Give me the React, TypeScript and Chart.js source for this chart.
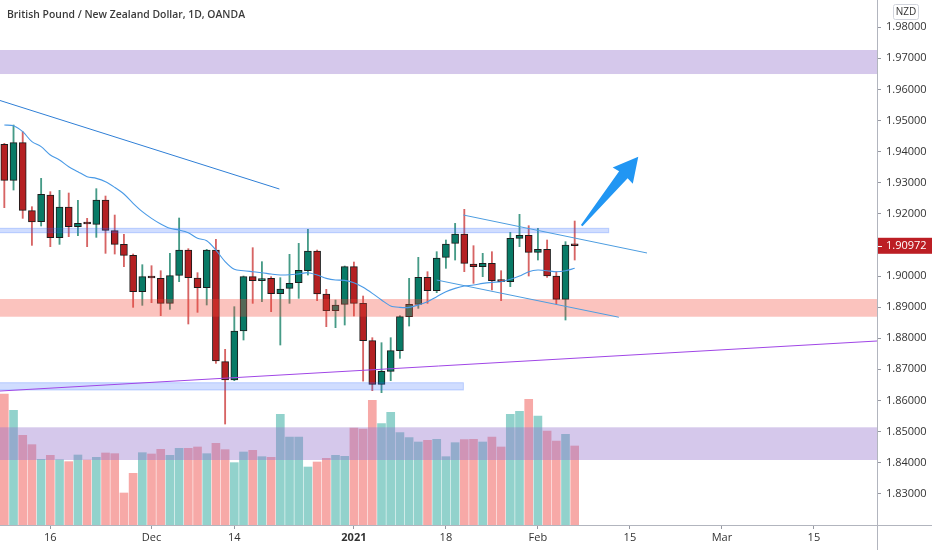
import React, { useEffect, useRef } from 'react';
import { Chart, registerables } from 'chart.js';

Chart.register(...registerables);

// ---- data ----
const opens = [
  1.94234, 1.93076, 1.94287, 1.92101, 1.91747, 1.92604, 1.91233, 1.92219, 1.91586, 1.91693,
  1.91661, 1.92444, 1.91458, 1.91018, 1.90665, 1.89496, 1.89957, 1.89925, 1.89121, 1.90021,
  1.90836, 1.89936, 1.89625, 1.90836, 1.87245, 1.86656, 1.88232, 1.89979, 1.8985, 1.89925,
  1.89432, 1.89603, 1.89786, 1.90171, 1.90804, 1.89421, 1.88885, 1.89089, 1.903, 1.89121,
  1.87921, 1.86517, 1.86935, 1.87599, 1.88692, 1.89089, 1.89957, 1.89528, 1.906, 1.9105,
  1.9135, 1.90386, 1.903, 1.90407, 1.89839, 1.89818, 1.91211, 1.91308, 1.90761, 1.90857,
  1.9, 1.8925, 1.91008,
];
const highs = [
  1.94266, 1.94855, 1.94641, 1.92229, 1.9314, 1.92712, 1.92755, 1.92669, 1.92433, 1.91854,
  1.92808, 1.92572, 1.91961, 1.9134, 1.90707, 1.90364, 1.90332, 1.90171, 1.90729, 1.91865,
  1.90879, 1.90107, 1.90857, 1.91179, 1.87642, 1.89014, 1.9, 1.90911, 1.90461, 1.89979,
  1.89946, 1.90697, 1.9105, 1.91501, 1.90836, 1.89571, 1.89228, 1.90322, 1.9045, 1.89357,
  1.88017, 1.87856, 1.88017, 1.88725, 1.89925, 1.906, 1.90139, 1.90782, 1.91158, 1.91693,
  1.92144, 1.90975, 1.90729, 1.90782, 1.90171, 1.91404, 1.91983, 1.91618, 1.91533, 1.91158,
  1.90139, 1.91104, 1.91768,
];
const lows = [
  1.92197, 1.92765, 1.91854, 1.90986, 1.91608, 1.90943, 1.91018, 1.91265, 1.91297, 1.90943,
  1.91243, 1.90729, 1.90707, 1.903, 1.88993, 1.89057, 1.89143, 1.88725, 1.88928, 1.89818,
  1.88457, 1.88832, 1.89068, 1.87192, 1.85241, 1.86635, 1.87942, 1.89121, 1.89175, 1.88853,
  1.87781, 1.89121, 1.89282, 1.90032, 1.89207, 1.88371, 1.88339, 1.88424, 1.88714, 1.86621,
  1.86313, 1.86249, 1.86635, 1.87353, 1.88392, 1.8896, 1.89121, 1.89464, 1.90247, 1.90514,
  1.90139, 1.89764, 1.89979, 1.8955, 1.89207, 1.89657, 1.90943, 1.9, 1.90514, 1.89957,
  1.891, 1.88585, 1.90514,
];
const closes = [
  1.93076, 1.94287, 1.92111, 1.91736, 1.92626, 1.91233, 1.92219, 1.91586, 1.91693, 1.91672,
  1.92444, 1.91468, 1.91018, 1.90665, 1.89496, 1.89979, 1.89936, 1.89121, 1.90011, 1.90836,
  1.89946, 1.89625, 1.90836, 1.87267, 1.86656, 1.88232, 1.89979, 1.8985, 1.89914, 1.89432,
  1.89582, 1.89764, 1.90182, 1.90804, 1.89421, 1.88885, 1.89068, 1.903, 1.89121, 1.87921,
  1.86517, 1.86935, 1.87599, 1.88692, 1.89089, 1.89957, 1.89528, 1.90579, 1.91029, 1.9135,
  1.90407, 1.903, 1.90407, 1.8985, 1.89818, 1.91211, 1.91308, 1.90761, 1.90857, 1.9,
  1.8925, 1.90997, 1.90972,
];
const volumes = [
  39300, 34400, 26900, 24100, 19700, 20900, 19600, 19000, 21000, 19500,
  20300, 21600, 21400, 9600, 15500, 21700, 21300, 22700, 20900, 23000,
  23000, 23400, 21400, 24500, 22600, 18700, 21900, 22400, 20500, 20300,
  33200, 26400, 26400, 17400, 18900, 20000, 20900, 20600, 29100, 28800,
  37400, 30400, 33800, 27700, 26200, 24900, 25400, 25700, 20500, 24700,
  25600, 25700, 24900, 26400, 23400, 33200, 34100, 37700, 32700, 28200,
  25200, 27200, 23700,
];
const maValues = [
  1.94855, 1.94834, 1.94641, 1.94319, 1.94159, 1.93891, 1.9373, 1.93516, 1.93355, 1.93194,
  1.9314, 1.93033, 1.92851, 1.92637, 1.92337, 1.92069, 1.91854, 1.91672, 1.91533, 1.91479,
  1.91393, 1.91211, 1.91136, 1.90836, 1.90461, 1.90214, 1.90171, 1.90139, 1.90107, 1.90064,
  1.90032, 1.9004, 1.9007, 1.90107, 1.90032, 1.89925, 1.89871, 1.89861, 1.89786, 1.89636,
  1.89443, 1.89228, 1.89035, 1.88992, 1.88992, 1.89068, 1.89175, 1.89335, 1.89496, 1.89603,
  1.89678, 1.89711, 1.89764, 1.89796, 1.89818, 1.89893, 1.9, 1.90139, 1.90193, 1.90171,
  1.90139, 1.90171, 1.90247,
];
const xTickIndex = [5, 16, 25, 38, 48, 58, 68, 78, 88];
const xTickLabels = ['16', 'Dec', '14', '2021', '18', 'Feb', '15', 'Mar', '15'];
const priceTicks = [1.83, 1.84, 1.85, 1.86, 1.87, 1.88, 1.89, 1.9, 1.91, 1.92, 1.93, 1.94, 1.95, 1.96, 1.97, 1.98];
const lastPrice = 1.90972;
const zoneLow = [1.96495, 1.91392, 1.88691, 1.86334, 1.84084];
const zoneHigh = [1.97267, 1.91534, 1.8926, 1.86569, 1.85135];
const zoneEndIndex = [null, 65.7, null, 49.9, null];
const trendLines = [
  [-0.47, 1.95643, 29.9, 1.92797],
  [49.9, 1.91961, 69.86, 1.9074],
  [47.0, 1.89871, 66.8, 1.88675],
  [-0.47, 1.86302, 94.86, 1.8791],
];
const arrowFrom = [62.76, 1.91617];
const arrowTo = [68.91, 1.93837];
const titleText = 'British Pound / New Zealand Dollar, 1D, OANDA';
const currencyText = 'NZD';

// ---- view / styles ----
const X_MIN = -0.47;
const X_MAX = 94.86;
const Y_MIN = 1.81994;
const Y_MAX = 1.98875;
const VOL_MAX = 157500;
const FONT = "'Open Sans', sans-serif";
const zoneFill = [
  'rgba(149,117,205,0.40)',
  'rgba(41,98,255,0.22)',
  'rgba(244,67,54,0.32)',
  'rgba(41,98,255,0.22)',
  'rgba(149,117,205,0.40)',
];
const zoneStroke = [null, 'rgba(41,98,255,0.25)', null, 'rgba(41,98,255,0.25)', null];
const trendColors = ['#2f7fd6', '#4d9de0', '#4d9de0', 'rgb(160,70,230)'];
const BODY_DATASET = 2;

export default function App() {
  const ref = useRef<HTMLCanvasElement>(null);

  useEffect(() => {
    document.body.style.margin = '0';
    const idx = opens.map((_, i) => i);
    const up = (i: number) => closes[i] >= opens[i];

    const overlay = {
      id: 'overlay',
      afterDatasetDraw(chart: any, args: any) {
        if (args.index !== BODY_DATASET) return;
        const { ctx, chartArea, scales } = chart;
        const xs = scales.x;
        const ys = scales.y;
        ctx.save();
        ctx.beginPath();
        ctx.rect(chartArea.left, chartArea.top, chartArea.width, chartArea.height);
        ctx.clip();
        zoneLow.forEach((lo, i) => {
          const yTop = ys.getPixelForValue(zoneHigh[i]);
          const yBot = ys.getPixelForValue(lo);
          const x0 = chartArea.left;
          const end = zoneEndIndex[i];
          const x1 = end === null ? chartArea.right : xs.getPixelForValue(end);
          ctx.fillStyle = zoneFill[i];
          ctx.fillRect(x0, yTop, x1 - x0, yBot - yTop);
          const st = zoneStroke[i];
          if (st) {
            ctx.strokeStyle = st;
            ctx.lineWidth = 1;
            ctx.strokeRect(x0 - 1, yTop, x1 - x0 + 1, yBot - yTop);
          }
        });
        ctx.restore();
      },
      afterDraw(chart: any) {
        const { ctx, chartArea, scales, width, height } = chart;
        const xs = scales.x;
        const ys = scales.y;
        ctx.save();
        // arrow
        const x0 = xs.getPixelForValue(arrowFrom[0]);
        const y0 = ys.getPixelForValue(arrowFrom[1]);
        const x1 = xs.getPixelForValue(arrowTo[0]);
        const y1 = ys.getPixelForValue(arrowTo[1]);
        const dx = x1 - x0;
        const dy = y1 - y0;
        const L = Math.hypot(dx, dy);
        const ux = dx / L;
        const uy = dy / L;
        const nx = -uy;
        const ny = ux;
        const pt = (t: number, w: number) => [x0 + ux * t + nx * w, y0 + uy * t + ny * w];
        const poly = [
          pt(0, -1), pt(L - 23.5, -5.5), pt(L - 24.5, -13), pt(L, 0),
          pt(L - 24.5, 13), pt(L - 23.5, 5.5), pt(0, 1),
        ];
        ctx.beginPath();
        poly.forEach((p, i) => (i === 0 ? ctx.moveTo(p[0], p[1]) : ctx.lineTo(p[0], p[1])));
        ctx.closePath();
        ctx.fillStyle = '#2196f3';
        ctx.fill();

        // axis lines
        ctx.strokeStyle = 'rgb(178,181,190)';
        ctx.lineWidth = 1;
        ctx.beginPath();
        ctx.moveTo(Math.round(chartArea.right) + 0.5, 0);
        ctx.lineTo(Math.round(chartArea.right) + 0.5, height);
        ctx.moveTo(0, Math.round(chartArea.bottom) + 0.5);
        ctx.lineTo(width, Math.round(chartArea.bottom) + 0.5);
        ctx.stroke();

        // title
        ctx.font = `600 11.5px ${FONT}`;
        ctx.fillStyle = '#3a3a3a';
        ctx.textBaseline = 'alphabetic';
        ctx.textAlign = 'left';
        const tw = ctx.measureText(titleText).width;
        const sx = tw > 238 ? 238 / tw : 1;
        ctx.save();
        ctx.translate(7, 17.5);
        ctx.scale(sx, 1);
        ctx.fillText(titleText, 0, 0);
        ctx.restore();

        // currency box
        const bx = chartArea.right + 16;
        ctx.strokeStyle = '#d1d4dc';
        ctx.beginPath();
        if ((ctx as any).roundRect) (ctx as any).roundRect(bx + 0.5, 4.5, 25, 15, 2);
        else ctx.rect(bx + 0.5, 4.5, 25, 15);
        ctx.stroke();
        ctx.font = `10px ${FONT}`;
        ctx.fillStyle = '#333';
        ctx.textAlign = 'center';
        ctx.textBaseline = 'middle';
        ctx.fillText(currencyText, bx + 13, 12.5);

        // last price label
        const py = ys.getPixelForValue(lastPrice);
        ctx.fillStyle = 'rgb(188,30,36)';
        ctx.fillRect(chartArea.right + 1, py - 8, width - chartArea.right - 1, 16);
        ctx.strokeStyle = '#ffffff';
        ctx.beginPath();
        ctx.moveTo(chartArea.right + 1, Math.round(py) + 0.5);
        ctx.lineTo(chartArea.right + 5, Math.round(py) + 0.5);
        ctx.stroke();
        ctx.font = `11px ${FONT}`;
        ctx.fillStyle = '#ffffff';
        ctx.textAlign = 'left';
        ctx.fillText(lastPrice.toFixed(5), chartArea.right + 9, py + 0.5);
        ctx.restore();
      },
    };

    const lineSets = trendLines.map((t, i) => ({
      type: 'line' as const,
      yAxisID: 'y',
      data: [{ x: t[0], y: t[1] }, { x: t[2], y: t[3] }],
      borderColor: trendColors[i],
      borderWidth: 1,
      pointRadius: 0,
      order: 1,
    }));

    const chart = new Chart(ref.current as HTMLCanvasElement, {
      type: 'bar',
      data: {
        datasets: [
          {
            type: 'bar',
            yAxisID: 'yVol',
            data: idx.map((i) => ({ x: i, y: volumes[i] })) as any,
            backgroundColor: idx.map((i) => (up(i) ? 'rgba(38,166,154,0.5)' : 'rgba(239,83,80,0.5)')),
            borderWidth: 0,
            barThickness: 8,
            grouped: false,
            order: 5,
          },
          {
            type: 'bar',
            yAxisID: 'y',
            data: idx.map((i) => ({ x: i, y: [lows[i], highs[i]] })) as any,
            backgroundColor: idx.map((i) => (up(i) ? 'rgb(70,155,135)' : 'rgb(215,100,100)')),
            borderWidth: 0,
            barThickness: 1.2,
            grouped: false,
            order: 4,
          },
          {
            type: 'bar',
            yAxisID: 'y',
            data: idx.map((i) => ({ x: i, y: [opens[i], closes[i]] })) as any,
            backgroundColor: idx.map((i) => (up(i) ? 'rgb(8,122,102)' : 'rgb(180,32,34)')),
            borderColor: '#1c1c1c',
            borderWidth: 1,
            borderSkipped: false,
            barThickness: 7,
            minBarLength: 2,
            grouped: false,
            order: 3,
          },
          {
            type: 'line',
            yAxisID: 'y',
            data: idx.map((i) => ({ x: i, y: maValues[i] })) as any,
            borderColor: '#4a9ae6',
            borderWidth: 1.1,
            pointRadius: 0,
            tension: 0.3,
            order: 1,
          },
          ...(lineSets as any),
        ],
      },
      options: {
        animation: false,
        responsive: true,
        maintainAspectRatio: false,
        layout: { padding: 0 },
        plugins: { legend: { display: false }, tooltip: { enabled: false } },
        events: [],
        scales: {
          x: {
            type: 'linear',
            min: X_MIN,
            max: X_MAX,
            offset: false,
            grid: { display: true, drawOnChartArea: false, drawTicks: true, tickLength: 4, color: '#9598a1', offset: false },
            border: { display: false },
            afterBuildTicks: (s: any) => {
              s.ticks = xTickIndex.map((v) => ({ value: v }));
            },
            afterFit: (s: any) => {
              s.height = 25;
              s.paddingLeft = 0;
              s.paddingRight = 0;
            },
            ticks: {
              autoSkip: false,
              maxRotation: 0,
              padding: 2,
              color: '#333333',
              font: (c: any) => ({
                family: FONT,
                size: 11,
                weight: c.tick && xTickLabels[xTickIndex.indexOf(c.tick.value)] === '2021' ? 'bold' : 'normal',
              }),
              callback: (v: any) => xTickLabels[xTickIndex.indexOf(Number(v))] ?? '',
            },
          },
          y: {
            type: 'linear',
            position: 'right',
            min: Y_MIN,
            max: Y_MAX,
            grid: { drawOnChartArea: false, drawTicks: true, tickLength: 4, color: '#9598a1' },
            border: { display: false },
            afterBuildTicks: (s: any) => {
              s.ticks = priceTicks.map((v) => ({ value: v }));
            },
            afterFit: (s: any) => {
              s.width = 55;
              s.paddingTop = 0;
              s.paddingBottom = 0;
            },
            ticks: {
              padding: 5,
              color: '#333333',
              font: { family: FONT, size: 11 },
              callback: (v: any) => Number(v).toFixed(5),
            },
          },
          yVol: {
            type: 'linear',
            display: false,
            min: 0,
            max: VOL_MAX,
          },
        },
      } as any,
      plugins: [overlay],
    });

    return () => chart.destroy();
  }, []);

  return (
    <div style={{ width: 932, height: 550, position: 'relative' }}>
      <canvas ref={ref} />
    </div>
  );
}
